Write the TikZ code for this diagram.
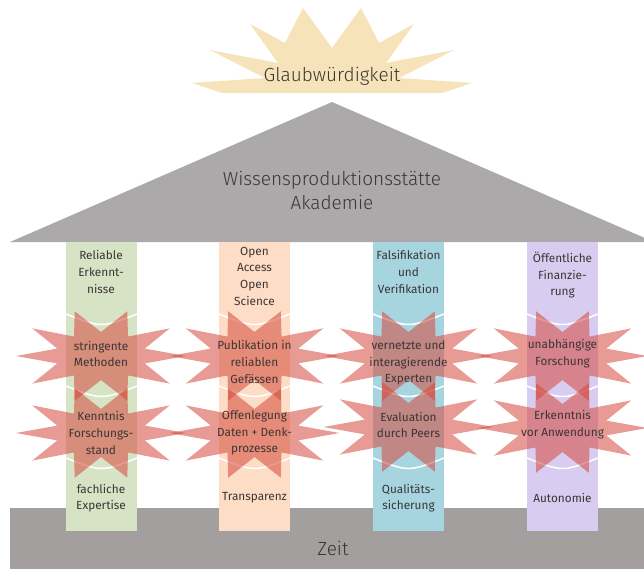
\documentclass[tikz,border=0pt]{standalone}
\usepackage{fontspec}
\setmainfont{Fira Sans}[UprightFont={* Light}]
\newfontfamily\smallfam{Fira Sans}
\definecolor{textc}{HTML}{3B3535}
\definecolor{sunc}{HTML}{F6E3BA}
\definecolor{roofc}{HTML}{ABA9AA}
\definecolor{basec}{HTML}{A29F9E}
\definecolor{pg}{HTML}{D6E3C4}
\definecolor{pp}{HTML}{FDDDC5}
\definecolor{pb}{HTML}{A6D5E0}
\definecolor{pv}{HTML}{D8CCF0}
\definecolor{starred}{HTML}{D6483C}
\begin{document}
\begin{tikzpicture}[x=1pt,y=-1pt,
  txt/.style={text=textc, align=center, inner sep=0pt, font=\smallfam\fontsize{11.8}{16.7}\selectfont},
  bigtxt/.style={text=textc, align=center, inner sep=0pt, font=\fontsize{19}{24}\selectfont},
  seg/.style={draw=white, line width=1.5pt},
  starfill/.style={fill=starred, fill opacity=0.55},
  burst/.pic={\fill[starfill] (0:85 and 47) \foreach \k in {0,...,9}{ -- ({\k*36+18}:46 and 24) -- ({\k*36+36}:85 and 47)} -- cycle;}
]
\useasboundingbox (0,0) rectangle (644,569);
\clip (0,0) rectangle (644,569);
% base
\fill[basec] (10,508) rectangle (644,569);
% roof
\fill[roofc] (10,242) -- (332,102) -- (654,242) -- cycle;
% sun
\fill[sunc] (222,93) -- (192,83) -- (265,78) -- (210,50) -- (278,63) -- (250,24) -- (285,43) -- (303,8) -- (332,48) -- (361,8) -- (379,43) -- (414,24) -- (386,63) -- (454,50) -- (399,78) -- (472,83) -- (442,93) -- cycle;
% pillars
\foreach \x/\c in {66/pg, 219/pp, 373/pb, 527/pv}{
  \fill[\c] (\x,242) rectangle ++(71,289);
  \foreach \y in {314,386,458}{
    \draw[seg] (\x,\y) .. controls ({\x+35.5},{\y+14}) .. ({\x+71},\y);
  }
}
% stars
\pic (s11) at (101,356) {burst};
\pic (s21) at (254.5,356) {burst};
\pic (s31) at (408.5,356) {burst};
\pic (s41) at (562.5,356) {burst};
\pic (s12) at (101,433) {burst};
\pic (s22) at (254.5,433) {burst};
\pic (s32) at (408.5,427) {burst};
\pic (s42) at (562.5,428) {burst};
% texts
\node[bigtxt] (sun) at (332,76) {Glaubwürdigkeit};
\node[bigtxt] (roof) at (332,190) {Wissensproduktionsstätte\\Akademie};
\node[bigtxt] (zeit) at (333,548) {Zeit};
\node[txt] (t1) at (101,272) {Reliable\\Erkennt-\\nisse};
\node[txt] (t2) at (254.5,276) {Open\\Access\\Open\\Science};
\node[txt] (t3) at (408.5,272) {Falsifikation\\und\\Verifikation};
\node[txt] (t4) at (562.5,275) {Öffentliche\\Finanzie-\\rung};
\node[txt] (a1) at (101,354) {stringente\\Methoden};
\node[txt] (a2) at (254.5,362) {Publikation in\\reliablen\\Gefässen};
\node[txt] (a3) at (408.5,363) {vernetzte und\\interagierende\\Experten};
\node[txt] (a4) at (562.5,354) {unabhängige\\Forschung};
\node[txt] (b1) at (101,433) {Kenntnis\\Forschungs-\\stand};
\node[txt] (b2) at (254.5,433) {Offenlegung\\Daten + Denk-\\prozesse};
\node[txt] (b3) at (408.5,425) {Evaluation\\durch Peers};
\node[txt] (b4) at (562.5,425) {Erkenntnis\\vor Anwendung};
\node[txt] (f1) at (101,498) {fachliche\\Expertise};
\node[txt] (f2) at (254.5,498) {Transparenz};
\node[txt] (f3) at (408.5,498) {Qualitäts-\\sicherung};
\node[txt] (f4) at (562.5,498) {Autonomie};
\end{tikzpicture}
\end{document}
